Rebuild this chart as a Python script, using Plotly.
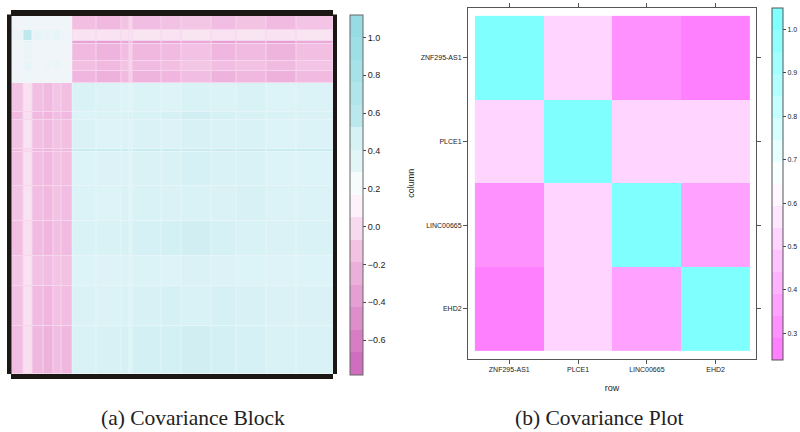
import plotly.graph_objects as go

W, H = 800, 432

# ---------- (a) covariance block: coarse reading of the feature blocks ----------
block_col_edges = [0, 12, 21, 32, 42, 50, 60.5, 85, 110, 118, 120.5, 150, 170, 200, 225, 255, 285, 321.5]
block_row_edges = [0, 14, 25, 28, 45, 55, 67, 96, 104, 133, 135.5, 170, 205, 240, 270, 310, 358]
block_values = [
    [0.24, 0.27, 0.25, 0.26, 0.24, 0.25, -0.17, -0.20, -0.15, -0.05, -0.18, -0.16, -0.13, -0.18, -0.15, -0.19, -0.14],
    [0.30, 0.66, 0.34, 0.30, 0.38, 0.28, 0.03, 0.04, 0.02, 0.07, 0.05, 0.04, 0.06, 0.04, 0.05, 0.03, 0.06],
    [0.25, 0.40, 0.27, 0.25, 0.28, 0.25, -0.34, -0.37, -0.33, -0.20, -0.35, -0.33, -0.31, -0.36, -0.33, -0.37, -0.30],
    [0.25, 0.30, 0.24, 0.25, 0.26, 0.24, -0.20, -0.23, -0.18, -0.08, -0.21, -0.19, -0.16, -0.22, -0.19, -0.23, -0.17],
    [0.24, 0.34, 0.26, 0.27, 0.30, 0.25, -0.17, -0.20, -0.15, -0.06, -0.19, -0.17, -0.13, -0.18, -0.16, -0.19, -0.14],
    [0.25, 0.27, 0.24, 0.26, 0.24, 0.26, -0.22, -0.25, -0.20, -0.10, -0.23, -0.22, -0.18, -0.24, -0.21, -0.25, -0.19],
    [-0.15, 0.02, -0.17, -0.19, -0.14, -0.17, 0.50, 0.48, 0.47, 0.44, 0.48, 0.47, 0.50, 0.48, 0.50, 0.47, 0.48],
    [-0.19, 0.00, -0.20, -0.22, -0.18, -0.20, 0.47, 0.48, 0.49, 0.52, 0.50, 0.52, 0.54, 0.52, 0.51, 0.50, 0.49],
    [-0.15, 0.03, -0.17, -0.19, -0.15, -0.17, 0.49, 0.47, 0.48, 0.46, 0.49, 0.48, 0.51, 0.49, 0.50, 0.47, 0.48],
    [-0.20, -0.02, -0.22, -0.24, -0.19, -0.22, 0.58, 0.58, 0.58, 0.58, 0.58, 0.58, 0.58, 0.58, 0.58, 0.58, 0.58],
    [-0.16, 0.02, -0.18, -0.20, -0.15, -0.17, 0.47, 0.48, 0.48, 0.44, 0.49, 0.50, 0.52, 0.50, 0.50, 0.47, 0.47],
    [-0.15, 0.03, -0.18, -0.20, -0.15, -0.18, 0.48, 0.47, 0.49, 0.45, 0.50, 0.49, 0.50, 0.49, 0.51, 0.48, 0.48],
    [-0.17, 0.01, -0.19, -0.22, -0.17, -0.19, 0.50, 0.50, 0.51, 0.47, 0.52, 0.53, 0.54, 0.52, 0.50, 0.49, 0.50],
    [-0.13, 0.04, -0.16, -0.18, -0.14, -0.16, 0.47, 0.46, 0.48, 0.45, 0.48, 0.47, 0.49, 0.48, 0.47, 0.46, 0.47],
    [-0.16, 0.02, -0.19, -0.22, -0.16, -0.18, 0.49, 0.48, 0.50, 0.46, 0.51, 0.52, 0.50, 0.52, 0.51, 0.49, 0.49],
    [-0.18, 0.00, -0.21, -0.24, -0.18, -0.21, 0.50, 0.51, 0.52, 0.47, 0.53, 0.53, 0.54, 0.53, 0.52, 0.50, 0.50],
]
block_zmin, block_zmax = -0.785, 1.119
block_bands = ["#cf6dbe", "#d67dc4", "#dd8ecb", "#e5a0d3", "#ebb0da", "#f2c2e3", "#f8daee", "#fdf2f9",
               "#f6fcfb", "#e3f6f7", "#d6f2f4", "#bbe8ec", "#b0e5e9", "#a6e2e7", "#9edfe5", "#97dce3"]
# smooth palette for the resampled picture: (value, colour)
block_smooth = [(-0.785, "#cf6dbe"), (-0.4, "#e39ad1"), (-0.2, "#f1b9e0"), (0.0, "#f9dff0"), (0.15, "#f8eef6"),
                (0.25, "#f0f5f8"), (0.4, "#e2f5f8"), (0.5, "#d9f2f6"), (0.62, "#c0e9ee"), (1.119, "#97dce3")]

# ---------- (b) covariance plot ----------
genes = ["ZNF295-AS1", "PLCE1", "LINC00665", "EHD2"]
cov_values = [
    [1.00, 0.52, 0.33, 0.27],
    [0.52, 1.00, 0.52, 0.52],
    [0.33, 0.52, 1.00, 0.38],
    [0.27, 0.52, 0.38, 1.00],
]
cov_zmin, cov_zmax = 0.24, 1.05
cov_bands = ["#FF80FF", "#FF91FF", "#FFA2FF", "#FFB3FF", "#FFC4FF", "#FFD5FF", "#FFE6FF", "#FFF7FF",
             "#F7FFFF", "#E6FFFF", "#D5FFFF", "#C4FFFF", "#B3FFFF", "#A2FFFF", "#91FFFF", "#80FFFF"]


def stepped(colors):
    n = len(colors)
    out = []
    for i, c in enumerate(colors):
        out += [[i / n, c], [(i + 1) / n, c]]
    return out


def px_x(p):
    return p / W


def px_y(p):
    return 1 - p / H


GREY = "#555555"
TXT = "#222222"
smooth_scale = [[(v - block_zmin) / (block_zmax - block_zmin), c] for v, c in block_smooth]

fig = go.Figure()

# carries the stepped colour key of panel (a); its single cell lies outside the axis range
fig.add_trace(go.Heatmap(
    z=[[block_zmin, block_zmax]], x=[1000, 1001, 1002], y=[1000, 1001],
    zmin=block_zmin, zmax=block_zmax, colorscale=stepped(block_bands), hoverinfo="skip",
    colorbar=dict(x=px_x(350), xanchor="left", xpad=0, y=px_y(15), yanchor="top", ypad=0,
                  len=360 / H, thickness=13, outlinecolor="#666666", outlinewidth=1,
                  tick0=0, dtick=0.2, tickformat=".1f", ticks="outside", ticklen=3, tickcolor="#444444",
                  tickfont=dict(family="Liberation Sans", size=9, color=TXT)),
))
fig.add_trace(go.Heatmap(
    z=block_values, x=block_col_edges, y=block_row_edges,
    zmin=block_zmin, zmax=block_zmax, colorscale=smooth_scale, showscale=False, xgap=1, ygap=1,
))
fig.add_trace(go.Heatmap(
    z=cov_values, x=[1, 2, 3, 4], y=[1, 2, 3, 4], xaxis="x2", yaxis="y2",
    zmin=cov_zmin, zmax=cov_zmax, colorscale=stepped(cov_bands),
    colorbar=dict(x=px_x(771.5), xanchor="left", xpad=0, y=px_y(7.5), yanchor="top", ypad=0,
                  len=351.5 / H, thickness=10.5, outlinecolor=GREY, outlinewidth=1,
                  tick0=0.3, dtick=0.1, tickformat=".1f", ticks="outside", ticklen=3, tickcolor="#444444",
                  tickfont=dict(family="Liberation Sans", size=7, color=TXT)),
))

axis_font = dict(family="Liberation Sans", size=7, color=TXT)
title_font = dict(family="Liberation Sans", size=9, color=TXT)
bars = [(11, 333, 10, 16), (7, 11.5, 14.5, 374), (333, 337, 14.5, 374), (11, 333, 374, 379)]
shapes = [
    dict(type="rect", xref="paper", yref="paper", x0=px_x(x0), x1=px_x(x1), y0=px_y(y0), y1=px_y(y1),
         fillcolor="#1a1715", line_width=0, layer="above")
    for x0, x1, y0, y1 in bars
]
# soft ground that shows through the gaps between the cells of panel (a)
shapes.append(dict(type="rect", xref="paper", yref="paper", x0=px_x(11.5), x1=px_x(72), y0=px_y(374), y1=px_y(83),
                   fillcolor="#f6d6ec", line_width=0, layer="below"))
shapes.append(dict(type="rect", xref="paper", yref="paper", x0=px_x(72), x1=px_x(333), y0=px_y(83), y1=px_y(16),
                   fillcolor="#f6d6ec", line_width=0, layer="below"))
shapes.append(dict(type="rect", xref="paper", yref="paper", x0=px_x(72), x1=px_x(333), y0=px_y(374), y1=px_y(83),
                   fillcolor="#e6f6f8", line_width=0, layer="below"))
shapes.append(dict(type="rect", xref="paper", yref="paper", x0=px_x(11.5), x1=px_x(72), y0=px_y(83), y1=px_y(16),
                   fillcolor="#f2f5f8", line_width=0, layer="below"))

fig.update_layout(
    width=W, height=H, margin=dict(l=0, r=0, t=0, b=0), paper_bgcolor="white", plot_bgcolor="rgba(0,0,0,0)",
    xaxis=dict(domain=[px_x(11.5), px_x(333)], range=[0, 321.5], visible=False),
    yaxis=dict(domain=[px_y(374), px_y(16)], range=[358, 0], visible=False),
    xaxis2=dict(domain=[px_x(468), px_x(756)], range=[0.4, 4.587], anchor="y2",
                tickvals=[1, 2, 3, 4], ticktext=genes, ticks="outside", ticklen=4, tickcolor=GREY,
                showline=True, linecolor=GREY, linewidth=1, mirror="ticks", showgrid=False, zeroline=False,
                tickfont=axis_font, title=dict(text="row", font=title_font, standoff=12)),
    yaxis2=dict(domain=[px_y(359), px_y(7.5)], range=[4.6, 0.4], anchor="x2",
                tickvals=[1, 2, 3, 4], ticktext=genes, ticks="outside", ticklen=4, tickcolor=GREY,
                showline=True, linecolor=GREY, linewidth=1, mirror="ticks", showgrid=False, zeroline=False,
                tickfont=axis_font, title=dict(text="column", font=title_font, standoff=4)),
    shapes=shapes,
    annotations=[
        dict(text=t, x=px_x(cx), y=px_y(418), xref="paper", yref="paper", xanchor="center", yanchor="middle",
             showarrow=False, font=dict(family="Liberation Serif", size=21.5, color="#222222"))
        for t, cx in [("(a) Covariance Block", 193), ("(b) Covariance Plot", 599)]
    ],
)
fig.write_html("out.html", config={"displayModeBar": False}, post_script="document.body.style.margin='0'")
